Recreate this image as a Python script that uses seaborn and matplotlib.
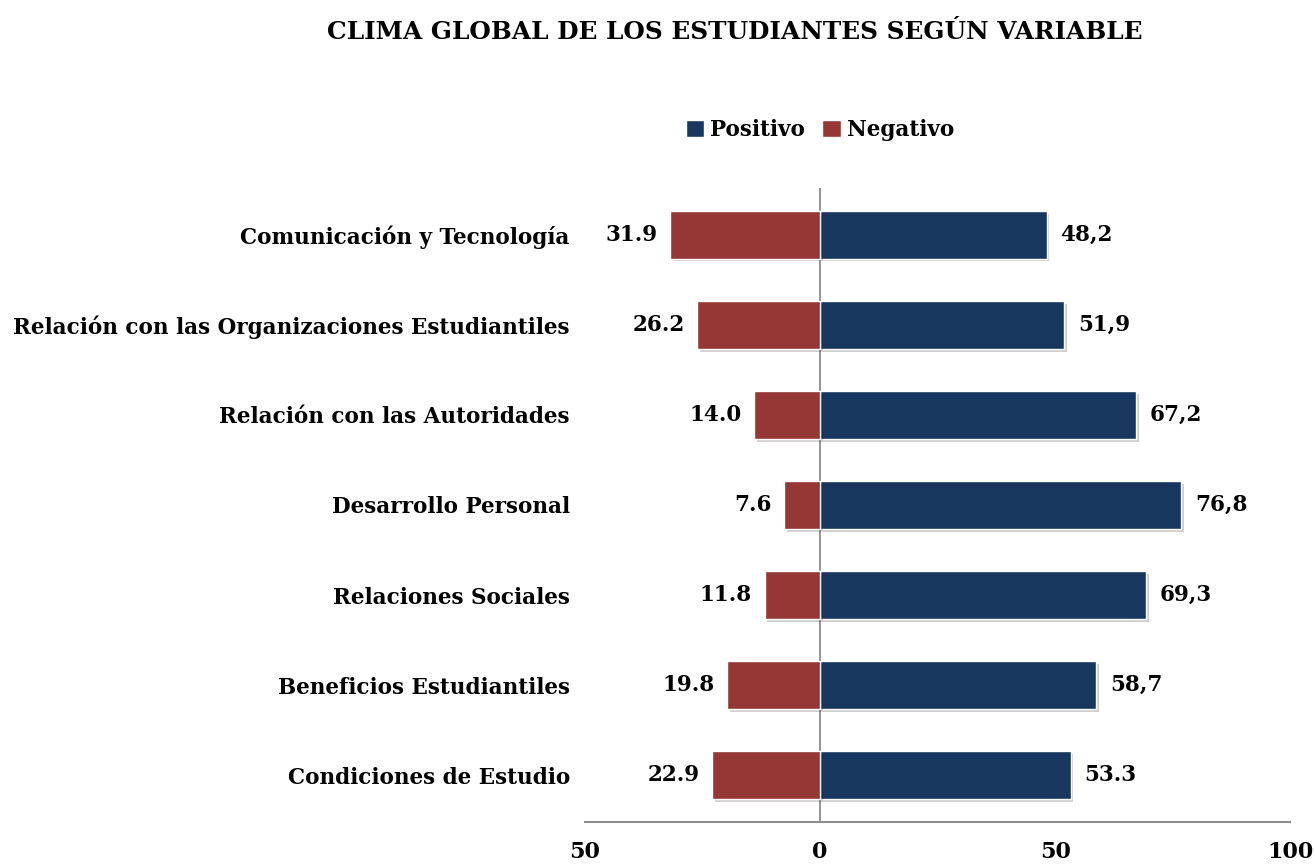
import matplotlib
matplotlib.use("Agg")
import matplotlib.pyplot as plt
import matplotlib.patheffects as pe
from matplotlib.ticker import FuncFormatter
import pandas as pd
import seaborn as sns

# Datos
categorias = [
    "Comunicación y Tecnología",
    "Relación con las Organizaciones Estudiantiles",
    "Relación con las Autoridades",
    "Desarrollo Personal",
    "Relaciones Sociales",
    "Beneficios Estudiantiles",
    "Condiciones de Estudio",
]
positivo = [48.2, 51.9, 67.2, 76.8, 69.3, 58.7, 53.3]
negativo = [31.9, 26.2, 14.0, 7.6, 11.8, 19.8, 22.9]
etiq_pos = ["48,2", "51,9", "67,2", "76,8", "69,3", "58,7", "53.3"]
etiq_neg = ["31.9", "26.2", "14.0", "7.6", "11.8", "19.8", "22.9"]

AZUL = "#17375E"
ROJO = "#953735"
GRIS = "#8C8C8C"

df = pd.DataFrame({
    "categoria": categorias * 2,
    "valor": positivo + [-v for v in negativo],
    "tipo": ["Positivo"] * len(categorias) + ["Negativo"] * len(categorias),
})

sns.set_theme(style="white")
plt.rcParams["font.family"] = ["DejaVu Serif"]
plt.rcParams["font.weight"] = "bold"
plt.rcParams["text.color"] = "black"

fig = plt.figure(figsize=(13.15, 8.65), dpi=100)
ax = fig.add_axes([0.4449, 0.0497, 0.5362, 0.733])

sns.barplot(data=df, x="valor", y="categoria", hue="tipo", order=categorias,
            hue_order=["Positivo", "Negativo"], palette={"Positivo": AZUL, "Negativo": ROJO},
            dodge=False, width=0.53, orient="h", saturation=1, ax=ax, legend=True)

leg = ax.legend(loc="center", bbox_to_anchor=(820 / 1315, 1 - 130 / 865),
                bbox_transform=fig.transFigure, ncol=2, frameon=False,
                handlelength=0.85, handleheight=0.85, handletextpad=0.3, columnspacing=0.8,
                prop={"weight": "bold", "size": 15.5})

# sombra ligera en las barras
for p in ax.patches:
    p.set_path_effects([pe.SimplePatchShadow(offset=(2, -2), alpha=0.2), pe.Normal()])

# etiquetas de valores
for i in range(len(categorias)):
    ax.annotate(etiq_pos[i], (positivo[i], i), xytext=(10, 0), textcoords="offset points",
                ha="left", va="center", fontsize=15.5, fontweight="bold", color="black")
    ax.annotate(etiq_neg[i], (-negativo[i], i), xytext=(-9, 0), textcoords="offset points",
                ha="right", va="center", fontsize=15.5, fontweight="bold", color="black")

ax.set_xlim(-50, 100)
ax.set_ylim(6.52, -0.52)
ax.set_xticks([-50, 0, 50, 100])
ax.xaxis.set_major_formatter(FuncFormatter(lambda v, _: f"{abs(v):.0f}"))
ax.axvline(0, color=GRIS, lw=1.3, zorder=0.5)

ax.set_xlabel("")
ax.set_ylabel("")
for s in ["top", "right", "left"]:
    ax.spines[s].set_visible(False)
ax.spines["bottom"].set_color(GRIS)
ax.spines["bottom"].set_linewidth(1.5)
ax.tick_params(axis="x", length=0, pad=14, labelsize=16)
ax.tick_params(axis="y", length=0, pad=11, labelsize=15.5)
for t in ax.get_xticklabels() + ax.get_yticklabels():
    t.set_fontweight("bold")
    t.set_color("black")

fig.text(735 / 1315, 1 - 32 / 865, "CLIMA GLOBAL DE LOS ESTUDIANTES SEGÚN VARIABLE",
         ha="center", va="center", fontsize=17.8, fontweight="bold", color="black")

fig.savefig("out.png", dpi=100)
